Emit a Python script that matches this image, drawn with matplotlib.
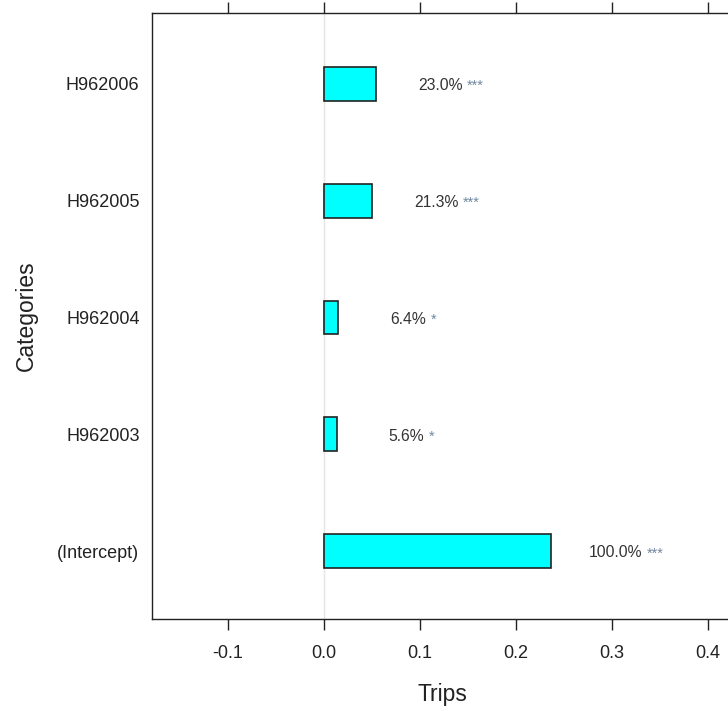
import matplotlib
matplotlib.use("Agg")
import matplotlib.pyplot as plt
from matplotlib.offsetbox import TextArea, HPacker, AnnotationBbox

plt.rcParams['font.family'] = ['Liberation Sans', 'DejaVu Sans']

# Model terms, coefficient estimates and their share of the intercept
categories = ["(Intercept)", "H962003", "H962004", "H962005", "H962006"]
estimates = [0.237, 0.0133, 0.0152, 0.0505, 0.0545]
pct_labels = ["100.0%", "5.6%", "6.4%", "21.3%", "23.0%"]
signif = ["***", "*", "*", "***", "***"]
xticks = [-0.1, 0.0, 0.1, 0.2, 0.3, 0.4]

W, H = 728, 711
fig = plt.figure(figsize=(W / 100, H / 100), dpi=100)
left, right, top, bottom = 152, 732, 13, 619
ax = fig.add_axes([left / W, (H - bottom) / H, (right - left) / W, (bottom - top) / H])

ypos = list(range(1, len(categories) + 1))
ax.axvline(0, color="#e4e4e4", lw=1.0, zorder=0)
ax.barh(ypos, estimates, height=0.29, color="#00ffff", edgecolor="#222222",
        linewidth=1.2, zorder=2)

# value labels: percentage in dark grey, significance stars in a muted blue-grey
for y, v, p, s in zip(ypos, estimates, pct_labels, signif):
    t1 = TextArea(p, textprops=dict(color="#333333", fontsize=11.3))
    t2 = TextArea(s, textprops=dict(color="#7088a0", fontsize=10.5))
    box = HPacker(children=[t1, t2], align="baseline", pad=0, sep=3)
    ab = AnnotationBbox(box, (v + 0.078, y - 0.015), frameon=False,
                        box_alignment=(0.5, 0.5), xycoords="data")
    ax.add_artist(ab)

ax.set_xlim(-0.179, 0.425)
ax.set_ylim(0.418, 5.608)
ax.set_xticks(xticks)
ax.set_xticklabels([f"{t:.1f}" for t in xticks])
ax.set_yticks(ypos)
ax.set_yticklabels(categories)

for sp in ax.spines.values():
    sp.set_color("#222222")
    sp.set_linewidth(1.0)
ax.spines["right"].set_visible(False)

ax.tick_params(axis="x", which="both", top=True, labeltop=False, direction="out",
               length=8, width=1.0, color="#222222", labelsize=13, pad=11,
               labelcolor="#222222")
ax.tick_params(axis="y", length=0, pad=9, labelsize=13, labelcolor="#222222")

ax.set_xlabel("Trips", fontsize=16.5, color="#222222", labelpad=15)
ax.set_ylabel("Categories", fontsize=16.5, color="#222222", labelpad=14)

fig.savefig("out.png", dpi=100)
